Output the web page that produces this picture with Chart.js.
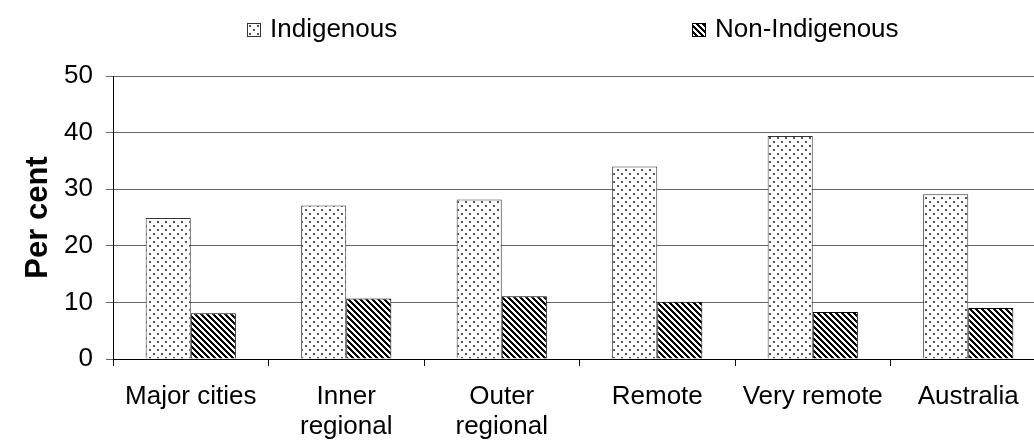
<!DOCTYPE html>
<html>
<head>
<meta charset="utf-8">
<script src="https://cdn.jsdelivr.net/npm/chart.js@4.4.1/dist/chart.umd.min.js"></script>
<style>
    html, body { margin: 0; padding: 0; background: #fff; overflow: hidden; }
    #wrap { position: relative; width: 1060px; height: 442px; }
</style>
</head>
<body>
<div id="wrap"><canvas id="regionChart"></canvas></div>
<script>
// Data
const categories = [['Major cities'], ['Inner', 'regional'], ['Outer', 'regional'], ['Remote'], ['Very remote'], ['Australia']];
const indigenous = [24.9, 27.1, 28.2, 34.0, 39.4, 29.1];
const nonIndigenous = [8.1, 10.7, 11.1, 10.1, 8.3, 9.0];
const yMin = 0;
const yMax = 50;
const yStep = 10;

Chart.defaults.font.family = "'Liberation Sans', Arial, sans-serif";
Chart.defaults.color = '#000';

// Dotted fill (Indigenous)
function dotPattern() {
    const c = document.createElement('canvas');
    c.width = 8; c.height = 8;
    const g = c.getContext('2d');
    g.fillStyle = '#fff';
    g.fillRect(0, 0, 8, 8);
    g.fillStyle = '#555';
    g.fillRect(1, 1, 2, 2);
    g.fillRect(5, 5, 2, 2);
    return g.createPattern(c, 'repeat');
}

// Diagonal stripes (Non-Indigenous)
function stripePattern() {
    const n = 6;
    const c = document.createElement('canvas');
    c.width = n; c.height = n;
    const g = c.getContext('2d');
    g.fillStyle = '#fff';
    g.fillRect(0, 0, n, n);
    g.fillStyle = '#000';
    for (let x = 0; x < n; x++) {
        for (let y = 0; y < n; y++) {
            if (((x - y) % n + n) % n < 3) g.fillRect(x, y, 1, 1);
        }
    }
    return g.createPattern(c, 'repeat');
}

const dots = dotPattern();
const stripes = stripePattern();

// Legend drawn at the top, two items spread apart like the original
const topLegend = {
    id: 'topLegend',
    afterDraw(chart) {
        const ctx = chart.ctx;
        const spots = [247, 692];
        ctx.save();
        ctx.font = "26px 'Liberation Sans', Arial, sans-serif";
        ctx.textBaseline = 'middle';
        ctx.textAlign = 'left';
        chart.data.datasets.forEach(function(ds, i) {
            const x = spots[i];
            ctx.fillStyle = ds.backgroundColor;
            ctx.fillRect(x, 23, 13, 13);
            ctx.strokeStyle = ds.borderColor;
            ctx.lineWidth = 1;
            ctx.strokeRect(x + 0.5, 23.5, 13, 13);
            ctx.fillStyle = '#000';
            ctx.fillText(ds.label, x + 23, 30);
        });
        ctx.restore();
    }
};

const ctx = document.getElementById('regionChart').getContext('2d');

new Chart(ctx, {
    type: 'bar',
    data: {
        labels: categories,
        datasets: [
            {
                label: 'Indigenous',
                data: indigenous,
                backgroundColor: dots,
                borderColor: '#333',
                borderWidth: 1,
                categoryPercentage: 0.58,
                barPercentage: 1.0
            },
            {
                label: 'Non-Indigenous',
                data: nonIndigenous,
                backgroundColor: stripes,
                borderColor: '#000',
                borderWidth: 1,
                categoryPercentage: 0.58,
                barPercentage: 1.0
            }
        ]
    },
    options: {
        responsive: true,
        maintainAspectRatio: false,
        animation: false,
        layout: {
            padding: { top: 76, right: 14, bottom: 0, left: 0 }
        },
        plugins: {
            legend: { display: false },
            tooltip: { enabled: false }
        },
        scales: {
            x: {
                afterFit: function(scale) { scale.height = 83; },
                grid: {
                    offset: true,
                    drawOnChartArea: false,
                    drawTicks: true,
                    tickLength: 7,
                    tickColor: '#000'
                },
                border: { color: '#000', width: 1 },
                ticks: {
                    padding: 16,
                    maxRotation: 0,
                    autoSkip: false,
                    font: { size: 26, lineHeight: 1.15 }
                }
            },
            y: {
                min: yMin,
                max: yMax,
                afterFit: function(scale) { scale.width = 113; },
                grid: {
                    color: '#666',
                    lineWidth: 1,
                    tickLength: 7,
                    tickColor: '#666'
                },
                border: { color: '#000', width: 1 },
                ticks: {
                    stepSize: yStep,
                    padding: 13,
                    font: { size: 26 }
                },
                title: {
                    display: true,
                    text: 'Per cent',
                    padding: { top: 20, bottom: 0 },
                    font: { size: 31, weight: 'bold', lineHeight: 1.2 }
                }
            }
        }
    },
    plugins: [topLegend]
});
</script>
</body>
</html>
